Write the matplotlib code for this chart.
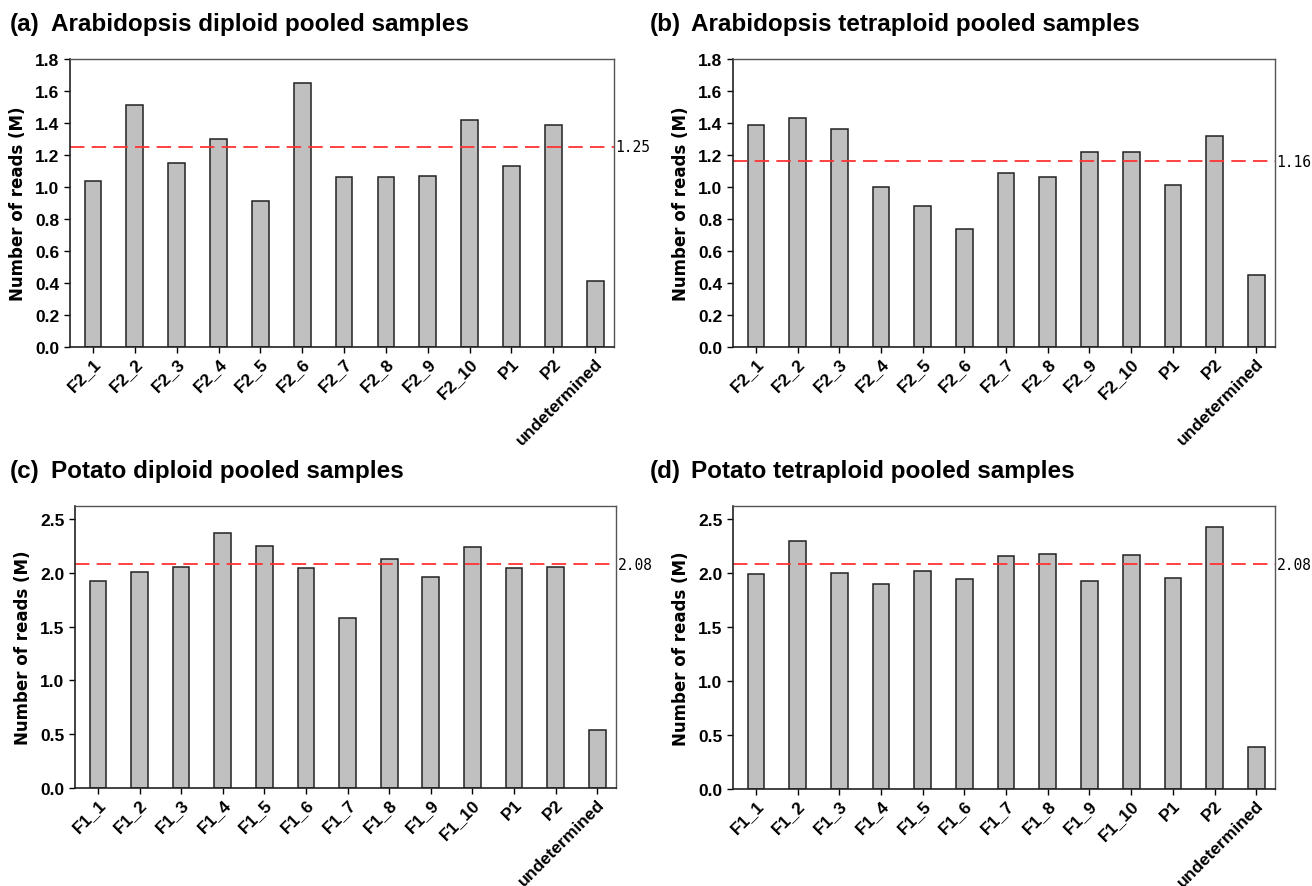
import matplotlib.pyplot as plt
import numpy as np

# sample names
arab_labels = ['F2_1', 'F2_2', 'F2_3', 'F2_4', 'F2_5', 'F2_6', 'F2_7', 'F2_8',
               'F2_9', 'F2_10', 'P1', 'P2', 'undetermined']
potato_labels = ['F1_1', 'F1_2', 'F1_3', 'F1_4', 'F1_5', 'F1_6', 'F1_7', 'F1_8',
                 'F1_9', 'F1_10', 'P1', 'P2', 'undetermined']

# number of reads (M)
arab_dip = [1.04, 1.51, 1.15, 1.30, 0.91, 1.65, 1.06, 1.06, 1.07, 1.42, 1.13, 1.39, 0.41]
arab_tet = [1.39, 1.43, 1.36, 1.00, 0.88, 0.74, 1.09, 1.06, 1.22, 1.22, 1.01, 1.32, 0.45]
potato_dip = [1.92, 2.01, 2.05, 2.37, 2.25, 2.04, 1.58, 2.13, 1.96, 2.24, 2.04, 2.05, 0.54]
potato_tet = [1.99, 2.30, 2.00, 1.90, 2.02, 1.94, 2.16, 2.18, 1.93, 2.17, 1.95, 2.43, 0.39]

# mean lines
means = [1.25, 1.16, 2.08, 2.08]
mean_text = ['1.25', '1.16', '2.08', '2.08']

titles = ['Arabidopsis diploid pooled samples', 'Arabidopsis tetraploid pooled samples',
          'Potato diploid pooled samples', 'Potato tetraploid pooled samples']
letters = ['(a)', '(b)', '(c)', '(d)']

plt.rcParams['font.family'] = ['Liberation Sans Narrow', 'Liberation Sans', 'DejaVu Sans']

fig = plt.figure(figsize=(13.12, 8.87), dpi=100)
W, H = 1312, 887
# axes boxes in pixels: left, top, right, bottom
boxes = [(70, 60, 614, 348), (733, 60, 1275, 348),
         (75, 507, 616, 789), (733, 507, 1275, 790)]
datasets = [arab_dip, arab_tet, potato_dip, potato_tet]
labelsets = [arab_labels, arab_labels, potato_labels, potato_labels]
ylims = [(0, 1.8), (0, 1.8), (0, 2.62), (0, 2.62)]
yticks = [np.arange(0, 1.81, 0.2), np.arange(0, 1.81, 0.2),
          np.arange(0, 2.51, 0.5), np.arange(0, 2.51, 0.5)]
title_x = [10, 650, 10, 650]
title_y = [25, 25, 472, 472]

for i in range(4):
    l, t, r, b = boxes[i]
    ax = fig.add_axes([l / W, 1 - b / H, (r - l) / W, (b - t) / H])
    vals = datasets[i]
    x = np.arange(len(vals))
    ax.bar(x, vals, width=0.4, color='#c0c0c0', edgecolor='#222222', linewidth=1.1)
    ax.axhline(means[i], color='#ff3333', linestyle=(0, (8, 4)), linewidth=1.3)
    ax.text(1.003, means[i], mean_text[i], transform=ax.get_yaxis_transform(),
            va='center', ha='left', fontsize=10.5, family='DejaVu Sans Mono')
    ax.set_xlim(-0.55, len(vals) - 0.55)
    ax.set_ylim(*ylims[i])
    ax.set_yticks(yticks[i])
    ax.set_yticklabels(['%.1f' % v for v in yticks[i]], fontsize=12.5, fontweight='bold')
    ax.set_xticks(x)
    ax.set_xticklabels(labelsets[i], rotation=45, ha='right', rotation_mode='anchor',
                       fontsize=12.5, fontweight='bold')
    ax.tick_params(axis='both', direction='out', length=4, width=1, top=False, right=False)
    ax.tick_params(axis='x', pad=2)
    for s in ['top', 'right']:
        ax.spines[s].set_color('#555555')
        ax.spines[s].set_linewidth(1.0)
    for s in ['left', 'bottom']:
        ax.spines[s].set_color('#222222')
        ax.spines[s].set_linewidth(1.2)
    ax.set_ylabel('Number of reads (M)', fontsize=12, fontweight='bold',
                  family='DejaVu Sans', labelpad=6)
    fig.text(title_x[i] / W, 1 - title_y[i] / H, letters[i], fontsize=17.5,
             fontweight='bold', va='center', ha='left')
    fig.text((title_x[i] + 41) / W, 1 - title_y[i] / H, titles[i], fontsize=17.5,
             fontweight='bold', va='center', ha='left')

fig.savefig('out.png', dpi=100)
